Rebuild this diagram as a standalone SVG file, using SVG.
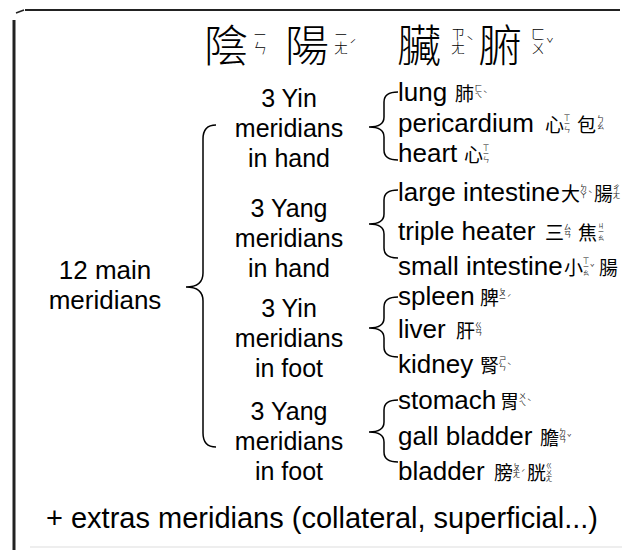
<svg xmlns="http://www.w3.org/2000/svg" width="622" height="550" viewBox="0 0 622 550">
<style>
.t{font-family:"Liberation Sans",Arial,sans-serif;fill:#000}
.lab{font-size:25px;text-anchor:middle}
.org{font-size:26px}
.big{font-size:26px;text-anchor:middle}
.foot{font-size:29px;text-anchor:middle}
.cj{font-family:"Noto Sans CJK TC","Noto Sans CJK SC",sans-serif;font-size:19px;fill:#000}
.zy,.z3,.tz,.tn{font-family:"Noto Sans CJK TC","Noto Sans CJK SC",sans-serif;fill:#222}
.zy,.z3,.tz{writing-mode:vertical-rl}
.zy{font-size:7.5px}
.z3{font-size:6.5px}
.tn{font-size:7.5px}
.tz{font-size:14px;font-weight:300;fill:#000}
.ttn{font-family:"Noto Sans CJK TC","Noto Sans CJK SC",sans-serif;font-size:13px;font-weight:300;fill:#000}
.ti{font-family:"Noto Sans CJK TC","Noto Sans CJK SC",sans-serif;font-size:44px;font-weight:300;fill:#000}
.br{fill:none;stroke:#000;stroke-width:1.5}
.frame{stroke:#222;fill:none}
</style>
<rect width="622" height="550" fill="#fff"/>
<g id="frame">
<line class="frame" x1="25" y1="10" x2="620" y2="10" stroke-width="2"/>
<line class="frame" x1="16" y1="13" x2="24" y2="10" stroke-width="1.5"/>
<line class="frame" x1="14" y1="20" x2="14" y2="550" stroke-width="3"/>
<line x1="30" y1="547" x2="622" y2="547" stroke="#ddd" stroke-width="1"/>
</g>
<g id="title">
<text class="ti" x="204" y="62">陰</text>
<text class="tz" x="260" y="29">ㄧㄣ</text>
<text class="ti" x="285" y="62">陽</text>
<text class="tz" x="341" y="29">ㄧㄤ</text><text class="ttn" x="349" y="50">ˊ</text>
<text class="ti" x="397" y="62">臟</text>
<text class="tz" x="458" y="27">ㄗㄤ</text><text class="ttn" x="466" y="46">ˋ</text>
<text class="ti" x="478" y="62">腑</text>
<text class="tz" x="538" y="27">ㄈㄨ</text><text class="ttn" x="546" y="48">ˇ</text>
</g>
<g id="root">
<text class="t big" x="105" y="279">12 main</text>
<text class="t big" x="105" y="309">meridians</text>
</g>
<g id="yin-hand">
<text class="t lab" x="289" y="107">3 Yin</text>
<text class="t lab" x="289" y="137">meridians</text>
<text class="t lab" x="289" y="167">in hand</text>
</g>
<g id="yang-hand">
<text class="t lab" x="289" y="217">3 Yang</text>
<text class="t lab" x="289" y="247">meridians</text>
<text class="t lab" x="289" y="277">in hand</text>
</g>
<g id="yin-foot">
<text class="t lab" x="289" y="317">3 Yin</text>
<text class="t lab" x="289" y="347">meridians</text>
<text class="t lab" x="289" y="377">in foot</text>
</g>
<g id="yang-foot">
<text class="t lab" x="289" y="420">3 Yang</text>
<text class="t lab" x="289" y="450">meridians</text>
<text class="t lab" x="289" y="480">in foot</text>
</g>
<g id="connectors">
<path class="br" d="M216,125 Q203,125 203,139 L203,273 Q203,287 186,287 Q203,287 203,301 L203,433 Q203,447 216,447"/>
<path class="br" d="M398,92 Q384,92 384,102 L384,117 Q384,127 369,127 Q384,127 384,137 L384,150 Q384,160 398,160"/>
<path class="br" d="M398,190 Q384,190 384,200 L384,214 Q384,224 369,224 Q384,224 384,234 L384,248 Q384,258 398,258"/>
<path class="br" d="M398,297 Q384,297 384,307 L384,318 Q384,328 369,328 Q384,328 384,338 L384,347 Q384,357 398,357"/>
<path class="br" d="M398,400 Q384,400 384,410 L384,422 Q384,432 369,432 Q384,432 384,442 L384,452 Q384,462 398,462"/>
</g>
<g id="lung">
<text class="t org" x="398" y="101">lung</text>
<text class="cj" x="455" y="101">肺</text>
<text class="zy" x="478.5" y="84">ㄈㄟ</text><text class="tn" x="483" y="97">ˋ</text>
</g>
<g id="pericardium">
<text class="t org" x="398" y="132">pericardium</text>
<text class="cj" x="545" y="132">心</text>
<text class="z3" x="567" y="114.5">ㄒㄧㄣ</text>
<text class="cj" x="577" y="132">包</text>
<text class="zy" x="600.5" y="115">ㄅㄠ</text>
</g>
<g id="heart">
<text class="t org" x="398" y="162">heart</text>
<text class="cj" x="464" y="162">心</text>
<text class="z3" x="486" y="144.5">ㄒㄧㄣ</text>
</g>
<g id="large-intestine">
<text class="t org" x="398" y="201">large intestine</text>
<text class="cj" x="561" y="201">大</text>
<text class="zy" x="583.5" y="184">ㄉㄚ</text><text class="tn" x="588" y="197">ˋ</text>
<text class="cj" x="594" y="201">腸</text>
<text class="zy" x="616.5" y="184">ㄔㄤ</text>
</g>
<g id="triple-heater">
<text class="t org" x="398" y="240">triple heater</text>
<text class="cj" x="545" y="240">三</text>
<text class="zy" x="567.5" y="223">ㄙㄢ</text>
<text class="cj" x="578" y="240">焦</text>
<text class="z3" x="601" y="222.5">ㄐㄧㄠ</text>
</g>
<g id="small-intestine">
<text class="t org" x="398" y="275">small intestine</text>
<text class="cj" x="564" y="275">小</text>
<text class="z3" x="586" y="257.5">ㄒㄧㄠ</text><text class="tn" x="590" y="271">ˇ</text>
<text class="cj" x="599" y="275">腸</text>
</g>
<g id="spleen">
<text class="t org" x="398" y="305">spleen</text>
<text class="cj" x="480" y="305">脾</text>
<text class="zy" x="502.5" y="288">ㄆㄧ</text><text class="tn" x="507" y="301">ˊ</text>
</g>
<g id="liver">
<text class="t org" x="398" y="338">liver</text>
<text class="cj" x="456" y="338">肝</text>
<text class="zy" x="478.5" y="321">ㄍㄢ</text>
</g>
<g id="kidney">
<text class="t org" x="398" y="373">kidney</text>
<text class="cj" x="480" y="373">腎</text>
<text class="zy" x="502.5" y="356">ㄕㄣ</text><text class="tn" x="507" y="369">ˋ</text>
</g>
<g id="stomach">
<text class="t org" x="398" y="409">stomach</text>
<text class="cj" x="500" y="409">胃</text>
<text class="zy" x="522.5" y="392">ㄨㄟ</text><text class="tn" x="527" y="405">ˋ</text>
</g>
<g id="gall-bladder">
<text class="t org" x="398" y="445">gall bladder</text>
<text class="cj" x="540" y="445">膽</text>
<text class="zy" x="562.5" y="428">ㄉㄢ</text><text class="tn" x="567" y="441">ˇ</text>
</g>
<g id="bladder">
<text class="t org" x="398" y="480">bladder</text>
<text class="cj" x="494" y="480">膀</text>
<text class="zy" x="516.5" y="463">ㄆㄤ</text><text class="tn" x="521" y="476">ˊ</text>
<text class="cj" x="527" y="480">胱</text>
<text class="z3" x="549" y="462.5">ㄍㄨㄤ</text>
</g>
<g id="extras">
<text class="t foot" x="322" y="528">+ extras meridians (collateral, superficial...)</text>
</g>
</svg>
